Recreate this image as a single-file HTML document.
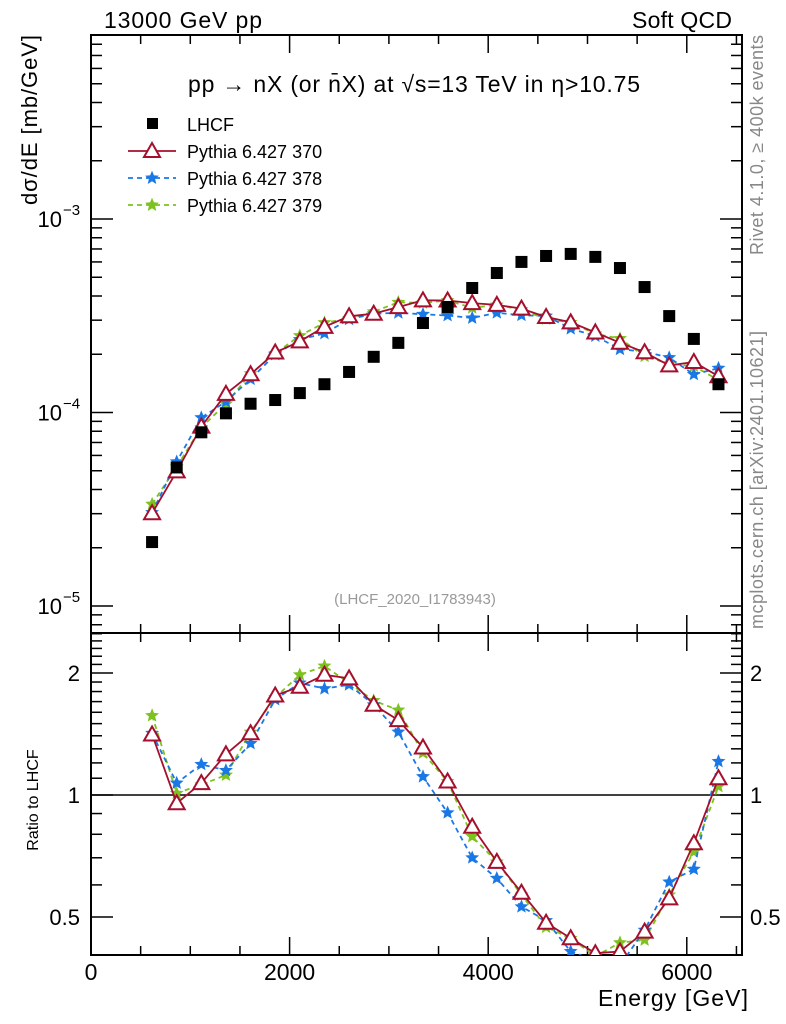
<!DOCTYPE html>
<html><head><meta charset="utf-8"><style>
body{margin:0;background:#fff;}
svg{display:block;font-family:"Liberation Sans",sans-serif;}
</style></head><body>
<svg id="c" width="786" height="1024" viewBox="0 0 786 1024" xmlns="http://www.w3.org/2000/svg">
<defs>
<clipPath id="clipTop"><rect x="91" y="35" width="651" height="598"/></clipPath>
<clipPath id="clipBot"><rect x="91" y="633" width="651" height="322"/></clipPath>
</defs>
<text x="104" y="28" font-size="23" textLength="158">13000 GeV pp</text>
<text x="632" y="28" font-size="23" textLength="100">Soft QCD</text>
<text x="188" y="92" font-size="23" textLength="452" lengthAdjust="spacing">pp  →  nX (or n̄X) at √s=13 TeV in η&gt;10.75</text>
<text x="415" y="604" font-size="15" fill="#999" text-anchor="middle">(LHCF_2020_I1783943)</text>
<text transform="translate(763,145) rotate(-90)" font-size="18" fill="#888" text-anchor="middle" textLength="220">Rivet 4.1.0, ≥ 400k events</text>
<text transform="translate(763,480) rotate(-90)" font-size="18" fill="#888" text-anchor="middle" textLength="298">mcplots.cern.ch [arXiv:2401.10621]</text>
<text transform="translate(37,35) rotate(-90)" font-size="22" text-anchor="end" textLength="170">dσ/dE [mb/GeV]</text>
<text transform="translate(38,800) rotate(-90)" font-size="16" text-anchor="middle">Ratio to LHCF</text>
<text x="598" y="1006" font-size="23" textLength="150">Energy [GeV]</text>
<g id="axes"></g>
<g id="marks"></g>
<g id="legend"></g>
</svg>
<script>
const energies=[615,863,1111,1359,1607,1855,2103,2351,2599,2847,3095,3343,3591,3839,4087,4335,4583,4831,5079,5327,5575,5823,6071,6319];
const lhcf=[2.14e-5,5.2e-5,7.9e-5,9.9e-5,1.11e-4,1.16e-4,1.26e-4,1.40e-4,1.62e-4,1.94e-4,2.29e-4,2.9e-4,3.51e-4,4.4e-4,5.26e-4,6.0e-4,6.44e-4,6.6e-4,6.37e-4,5.58e-4,4.45e-4,3.15e-4,2.40e-4,1.40e-4];
const ratio370=[1.41,0.954,1.07,1.26,1.42,1.76,1.85,1.98,1.94,1.67,1.53,1.31,1.08,0.835,0.684,0.574,0.484,0.443,0.407,0.411,0.46,0.556,0.76,1.10];
const ratio378=[1.42,1.07,1.19,1.15,1.34,1.72,1.89,1.83,1.87,1.67,1.43,1.11,0.904,0.70,0.623,0.53,0.49,0.411,0.39,0.38,0.464,0.61,0.656,1.21];
const ratio379=[1.57,1.01,1.06,1.12,1.43,1.74,1.98,2.08,1.89,1.71,1.62,1.27,1.08,0.79,0.684,0.567,0.472,0.443,0.40,0.432,0.439,0.567,0.724,1.05];
const xTickLabels=[0,2000,4000,6000];
const yTickLabels=["10","10","10"];
const yTickExps=[-3,-4,-5];
const ratioTickLabels=[2,1,0.5];

const NS="http://www.w3.org/2000/svg";
function X(e){return 91+e*(651/6556);}
function Y(v){return 219-(Math.log10(v)+3)*193.5;}
function R(r){return 795-Math.log2(r)*122;}
function mk(tag,attrs,parent){const el=document.createElementNS(NS,tag);for(const k in attrs)el.setAttribute(k,attrs[k]);parent.appendChild(el);return el;}
const axes=document.getElementById('axes'),marks=document.getElementById('marks'),leg=document.getElementById('legend');

let f1=mk('rect',{x:91,y:35,width:651,height:598,fill:'none',stroke:'#000','stroke-width':2},axes);


let f2=mk('rect',{x:91,y:633,width:651,height:322,fill:'none',stroke:'#000','stroke-width':2},axes);



for(let e=0;e<=6500;e+=500){
  const maj=e%2000===0, len=maj?18:9;
  const x=X(e);
  mk('line',{x1:x,y1:955,x2:x,y2:955-len,stroke:'#000','stroke-width':1.5},axes);
  mk('line',{x1:x,y1:633,x2:x,y2:633+len,stroke:'#000','stroke-width':1.5},axes);
  mk('line',{x1:x,y1:633,x2:x,y2:633-len,stroke:'#000','stroke-width':1.5},axes);
  mk('line',{x1:x,y1:35,x2:x,y2:35+len,stroke:'#000','stroke-width':1.5},axes);
}
xTickLabels.forEach(v=>{const t=mk('text',{x:X(v),y:980,'font-size':23,'text-anchor':'middle'},axes);t.textContent=v;

});

for(let k=-6;k<=-2;k++){for(let m=1;m<=9;m++){const v=m*Math.pow(10,k);const y=Y(v);if(y<35||y>633)continue;
  const len=m===1?22:11;
  mk('line',{x1:91,y1:y,x2:91+len,y2:y,stroke:'#000','stroke-width':1.5},axes);
  mk('line',{x1:742,y1:y,x2:742-len,y2:y,stroke:'#000','stroke-width':1.5},axes);}}
yTickExps.forEach((e,i)=>{const y=Y(Math.pow(10,e));
  const t=mk('text',{x:62,y:y+8,'font-size':22,'text-anchor':'end'},axes);t.textContent=yTickLabels[i];
  
  
  const s=mk('text',{x:63,y:y-4,'font-size':15},axes);s.textContent=String(e).replace('-','−');
  
  });

for(let r=0.4;r<=2.55;r+=0.1){const rr=Math.round(r*10)/10;const y=R(rr);if(y<633||y>955)continue;
  const maj=(rr===0.5||rr===1||rr===2);const len=maj?22:11;
  mk('line',{x1:91,y1:y,x2:91+len,y2:y,stroke:'#000','stroke-width':1.5},axes);
  mk('line',{x1:742,y1:y,x2:742-len,y2:y,stroke:'#000','stroke-width':1.5},axes);}
ratioTickLabels.forEach(v=>{const y=R(v)+8;
  let t=mk('text',{x:80,y:y,'font-size':22,'text-anchor':'end'},axes);t.textContent=v;
  
  
  t=mk('text',{x:750,y:y,'font-size':22},axes);t.textContent=v;
  
  });
let one=mk('line',{x1:91,y1:R(1),x2:742,y2:R(1),stroke:'#000','stroke-width':1.5},axes);



function star(cx,cy,r,color,parent){let p='';for(let i=0;i<10;i++){const a=-Math.PI/2+i*Math.PI/5;const rr=i%2?r*0.45:r;p+=(i?'L':'M')+(cx+rr*Math.cos(a)).toFixed(1)+','+(cy+rr*Math.sin(a)).toFixed(1);}
  return mk('path',{d:p+'Z',fill:color,stroke:color,'stroke-width':1},parent);}
function tri(cx,cy,color,parent){return mk('path',{d:`M${cx},${cy-8}L${cx+8},${cy+6}L${cx-8},${cy+6}Z`,fill:'#fff',stroke:color,'stroke-width':2},parent);}

const series=[
 {name:'370',ratio:ratio370,color:'#a50f2d',dash:'',mark:'tri'},
 {name:'378',ratio:ratio378,color:'#1a78e6',dash:'5,4',mark:'star'},
 {name:'379',ratio:ratio379,color:'#7dc21e',dash:'5,4',mark:'star'}
];
const gTop=mk('g',{'clip-path':'url(#clipTop)'},marks);
const gBot=mk('g',{'clip-path':'url(#clipBot)'},marks);
[series[2],series[1],series[0]].forEach(s=>{
  const mc=s.ratio.map((r,i)=>r*lhcf[i]);
  const pTop=energies.map((e,i)=>X(e).toFixed(1)+','+Y(mc[i]).toFixed(1)).join(' ');
  const pBot=energies.map((e,i)=>X(e).toFixed(1)+','+R(s.ratio[i]).toFixed(1)).join(' ');
  let l=mk('polyline',{points:pTop,fill:'none',stroke:s.color,'stroke-width':1.8,'stroke-dasharray':s.dash},gTop);
  
  
  l=mk('polyline',{points:pBot,fill:'none',stroke:s.color,'stroke-width':1.8,'stroke-dasharray':s.dash},gBot);
  
  
  energies.forEach((e,i)=>{
    const x=X(e),y1=Y(mc[i]),y2=R(s.ratio[i]);
    let m1,m2;
    if(s.mark==='tri'){m1=tri(x,y1,s.color,gTop);m2=tri(x,y2,s.color,gBot);}
    else{m1=star(x,y1,6,s.color,gTop);m2=star(x,y2,6,s.color,gBot);}
    
    
    
    
  });
});
energies.forEach((e,i)=>{const r=mk('rect',{x:X(e)-6,y:Y(lhcf[i])-6,width:12,height:12,fill:'#000'},marks);
  
  });

const legItems=[['LHCF','#000','','sq'],['Pythia 6.427 370','#a50f2d','','tri'],['Pythia 6.427 378','#1a78e6','5,4','star'],['Pythia 6.427 379','#7dc21e','5,4','star']];
legItems.forEach((it,i)=>{const y=124+i*27;
  if(it[3]==='sq'){mk('rect',{x:147,y:y-6,width:11,height:11,fill:'#000'},leg);}
  else{mk('line',{x1:128,y1:y,x2:176,y2:y,stroke:it[1],'stroke-width':1.8,'stroke-dasharray':it[2]},leg);
    if(it[3]==='tri')tri(152,y,it[1],leg);else star(152,y,6,it[1],leg);}
  const t=mk('text',{x:187,y:y+7,'font-size':18},leg);t.textContent=it[0];
  
  });
</script>
</body></html>
